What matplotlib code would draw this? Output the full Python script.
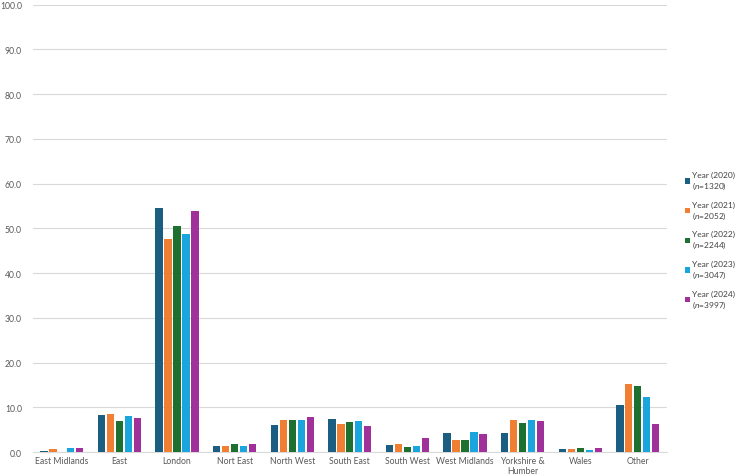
import numpy as np
import matplotlib.pyplot as plt

# Data (percent)
regions = ['East Midlands', 'East', 'London', 'Nort East', 'North West', 'South East',
           'South West', 'West Midlands', 'Yorkshire &\nHumber', 'Wales', 'Other']
series = ['Year (2020)\n($\\it{n}$=1320)', 'Year (2021)\n($\\it{n}$=2052)',
          'Year (2022)\n($\\it{n}$=2244)', 'Year (2023)\n($\\it{n}$=3047)',
          'Year (2024)\n($\\it{n}$=3997)']
y2020 = [0.3, 8.3, 54.5, 1.4, 6.0, 7.3, 1.6, 4.3, 4.3, 0.7, 10.4]
y2021 = [0.6, 8.6, 47.7, 1.4, 7.1, 6.3, 1.8, 2.6, 7.1, 0.7, 15.2]
y2022 = [0.0, 6.9, 50.6, 1.9, 7.1, 6.6, 1.2, 2.6, 6.5, 0.9, 14.7]
y2023 = [1.0, 8.0, 48.8, 1.4, 7.2, 6.9, 1.3, 4.5, 7.1, 0.4, 12.3]
y2024 = [1.0, 7.5, 53.9, 1.7, 7.8, 5.8, 3.2, 4.0, 6.9, 0.9, 6.3]
colors = ['#1B5E82', '#F07F34', '#1E7030', '#1AA6DC', '#A0309A']

plt.rcParams['font.family'] = ['Lato', 'DejaVu Sans']
plt.rcParams['mathtext.fontset'] = 'custom'
plt.rcParams['mathtext.it'] = 'Lato:italic'

fig = plt.figure(figsize=(7.35, 4.77), dpi=100)
ax = fig.add_axes([0.045, 0.0503, 0.862, 0.938])

x = np.arange(len(regions))
step = 0.156
width = 0.126
for i, vals in enumerate([y2020, y2021, y2022, y2023, y2024]):
    ax.bar(x + (i - 2) * step, vals, width, color=colors[i], label=series[i], zorder=3)

ax.set_xlim(-0.5, len(regions) - 0.5)
ax.set_ylim(0, 100)
ax.set_yticks(np.arange(0, 101, 10))
ax.set_yticklabels([f'{v:.1f}' for v in np.arange(0, 101, 10)])
ax.set_xticks(x)
ax.set_xticklabels(regions, linespacing=1.1)
ax.tick_params(axis='both', length=0, labelsize=6.2, colors='#595959')
ax.tick_params(axis='y', pad=8)
ax.tick_params(axis='x', pad=3)
ax.grid(axis='y', color='#D9D9D9', linewidth=0.8, zorder=0)
for s in ['top', 'right', 'left']:
    ax.spines[s].set_visible(False)
ax.spines['bottom'].set_color('#D9D9D9')

leg = fig.legend(loc='center left', bbox_to_anchor=(0.927, 0.494), frameon=False,
                 fontsize=6.0, handlelength=0.6, handleheight=0.6, handletextpad=0.25,
                 labelspacing=1.15, borderaxespad=0)
for t in leg.get_texts():
    t.set_color('#404040')

fig.savefig('out.png', dpi=100)
